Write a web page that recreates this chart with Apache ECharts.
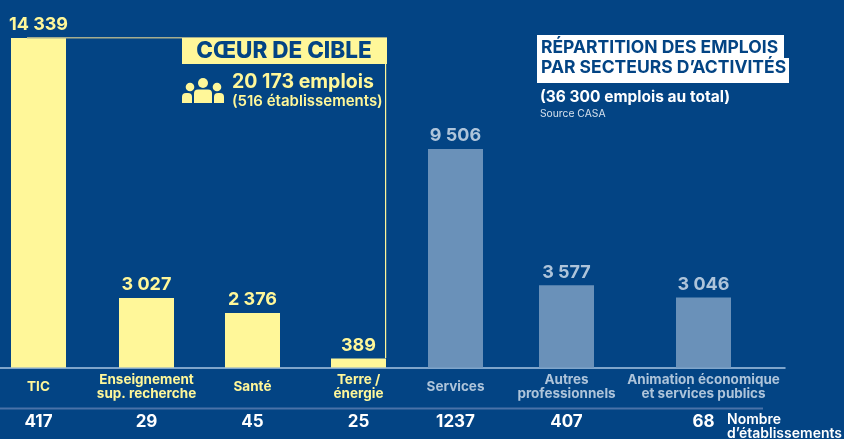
<!DOCTYPE html>
<html>
<head>
<meta charset="utf-8">
<style>
    html, body { margin: 0; padding: 0; background: #034484; }
    #chart { width: 844px; height: 439px; }
</style>
<script src="https://cdn.jsdelivr.net/npm/echarts@6/dist/echarts.min.js"></script>
</head>
<body>
<div id="chart"></div>
<script>
    var sectors = ['TIC', 'Enseignement\nsup. recherche', 'Santé', 'Terre /\nénergie', 'Services', 'Autres\nprofessionnels', 'Animation économique\net services publics'];
    var jobs = [14339, 3027, 2376, 389, 9506, 3577, 3046];
    var firms = [417, 29, 45, 25, 1237, 407, 68];
    // the sectors are unevenly spaced in the original, so x is a value axis
    var slots = [38.5, 146.5, 252.5, 358.5, 455.5, 566.5, 703.5];
    var coreCount = 4;

    var BG = '#034484', YELLOW = '#fff799', STEEL = '#6a91b9', PALE = '#aec4da';
    var FONT = 'Inter';

    function spaced(v) {
        return String(v).replace(/\B(?=(\d{3})+$)/g, ' ');
    }
    // value axes hand the label callbacks a string, hence Number()
    function isCore(v) {
        return slots.indexOf(Number(v)) < coreCount;
    }
    function barData(from, to) {
        return jobs.slice(from, to).map(function (v, i) { return [slots[from + i], v]; });
    }
    function text(x, y, str, size, color, weight, align) {
        return {
            type: 'text', x: x, y: y, z: 20,
            style: { text: str, font: (weight || 700) + ' ' + size + 'px ' + FONT, fill: color, textAlign: align || 'left', textVerticalAlign: 'middle' }
        };
    }
    function rect(x, y, w, h, color) {
        return { type: 'rect', z: 10, shape: { x: x, y: y, width: w, height: h }, style: { fill: color } };
    }
    // one figure of the people icon: head, then a body with rounded shoulders
    function person(headX, headY, r, bodyX, bodyY, w, h) {
        return [
            { type: 'circle', z: 15, shape: { cx: headX, cy: headY, r: r }, style: { fill: YELLOW } },
            { type: 'rect', z: 15, shape: { x: bodyX, y: bodyY, width: w, height: h, r: [4, 4, 0, 0] }, style: { fill: YELLOW } }
        ];
    }

    var chart = echarts.init(document.getElementById('chart'));
    chart.setOption({
        backgroundColor: BG,
        animation: false,
        textStyle: { fontFamily: FONT },
        grid: { left: 0, top: 38, width: 785, height: 329.5 },
        xAxis: [
            {
                type: 'value', min: 0, max: 785, splitLine: { show: false },
                axisLine: { show: true, onZero: false, lineStyle: { color: '#a9c5e2', width: 1.5 } },
                axisTick: { show: false },
                axisLabel: {
                    customValues: slots, margin: 19.5, fontSize: 13.5, fontWeight: 700, lineHeight: 14.5, fontFamily: FONT,
                    verticalAlign: 'middle',
                    color: function (v) { return isCore(v) ? YELLOW : PALE; },
                    formatter: function (v) { return sectors[slots.indexOf(Number(v))]; }
                }
            },
            {
                type: 'value', min: 0, max: 785, position: 'bottom', offset: 40, splitLine: { show: false },
                axisLine: { show: false }, axisTick: { show: false },
                axisLabel: {
                    customValues: slots, margin: 6, fontSize: 17, fontWeight: 700, color: '#ffffff', fontFamily: FONT,
                    formatter: function (v) { return String(firms[slots.indexOf(Number(v))]); }
                }
            }
        ],
        yAxis: { type: 'value', min: 0, max: 14339, show: false },
        series: [
            {
                name: 'Cœur de cible', type: 'bar', barWidth: 55, barGap: '-100%',
                data: barData(0, coreCount),
                itemStyle: { color: YELLOW },
                label: { show: true, position: 'top', distance: 4, fontSize: 18, fontWeight: 700, color: YELLOW, fontFamily: FONT, formatter: function (p) { return spaced(p.value[1]); } }
            },
            {
                name: 'Autres secteurs', type: 'bar', barWidth: 55, barGap: '-100%',
                data: barData(coreCount, jobs.length),
                itemStyle: { color: STEEL },
                label: { show: true, position: 'top', distance: 4, fontSize: 18, fontWeight: 700, color: PALE, fontFamily: FONT, formatter: function (p) { return spaced(p.value[1]); } }
            }
        ],
        graphic: [
            rect(27, 37, 360, 1.5, '#a6ad8e'),
            rect(385, 38, 1.2, 320, YELLOW),
            rect(182, 38, 205, 26, YELLOW),
            rect(0, 407.5, 763, 2, '#4a72a8'),
            rect(537, 35, 247, 24, '#ffffff'),
            rect(537, 58, 252, 25, '#ffffff'),
            text(284, 51, 'CŒUR DE CIBLE', 22.5, BG, 800, 'center'),
            text(232, 82, '20 173 emplois', 19.5, YELLOW, 700),
            text(232, 101, '(516 établissements)', 15, YELLOW, 600),
            text(541, 48, 'RÉPARTITION DES EMPLOIS', 17.5, BG, 700),
            text(541, 68, 'PAR SECTEURS D’ACTIVITÉS', 17.5, BG, 700),
            text(540, 97, '(36 300 emplois au total)', 15.5, '#ffffff', 700),
            text(540, 114, 'Source CASA', 10.3, '#d5e0ec', 400),
            text(727, 420, 'Nombre', 14, '#ffffff', 600),
            text(727, 434, 'd’établissements', 14, '#ffffff', 600)
        ].concat(person(190, 87, 4.3, 182, 93, 10, 10), person(217, 87, 4.3, 214, 93, 10, 10), person(203, 83, 5, 194, 89.5, 18, 13.5))
    });
</script>
</body>
</html>
